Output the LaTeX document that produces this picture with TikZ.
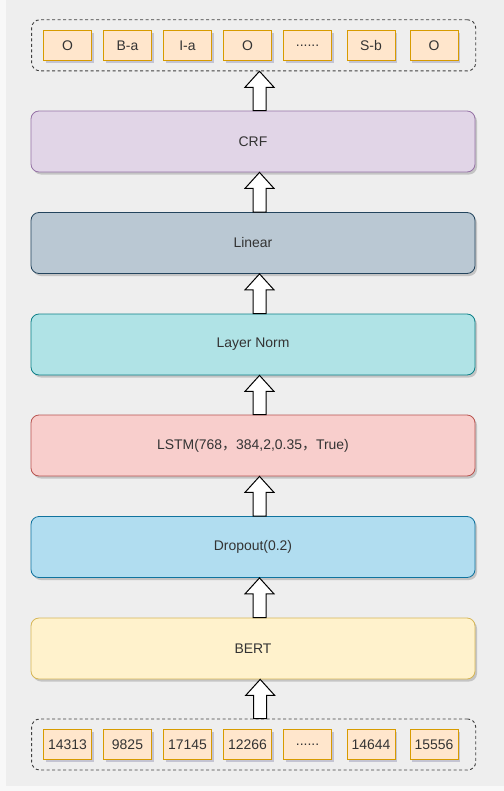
\documentclass[tikz,border=0pt]{standalone}
\usepackage{fontspec}
\setmainfont{Liberation Sans}
\newfontfamily\cjk{Noto Sans CJK SC}
\usetikzlibrary{shadows,calc}
\definecolor{bgc}{HTML}{EEEEEE}
\definecolor{txt}{HTML}{333333}
\definecolor{crff}{HTML}{E1D5E7}\definecolor{crfd}{HTML}{9673A6}
\definecolor{linf}{HTML}{BAC8D3}\definecolor{lind}{HTML}{23445D}
\definecolor{lnf}{HTML}{B0E3E6}\definecolor{lnd}{HTML}{0E8088}
\definecolor{lsf}{HTML}{F8CECC}\definecolor{lsd}{HTML}{B85450}
\definecolor{drf}{HTML}{B1DDF0}\definecolor{drd}{HTML}{10739E}
\definecolor{bef}{HTML}{FFF2CC}\definecolor{bed}{HTML}{D6B656}
\definecolor{tkf}{HTML}{FFE6CC}\definecolor{tkd}{HTML}{D79B00}
\newcommand{\sixdots}{......}
\tikzset{
  layer/.style={draw, line width=0.8bp, rounded corners=8bp, minimum width=444bp, minimum height=61bp,
    inner sep=0pt, font=\fontsize{14}{16}\selectfont, text=txt,
    drop shadow={shadow xshift=2bp, shadow yshift=-2.5bp, opacity=0.3, fill=black!60}},
  token/.style={draw=tkd, fill=tkf, line width=0.9bp, minimum width=48bp, minimum height=30bp, inner sep=0pt,
    font=\fontsize{14}{16}\selectfont, text=txt,
    drop shadow={shadow xshift=2bp, shadow yshift=-2.5bp, opacity=0.3, fill=blue!30!black!60}},
  group/.style={draw=black!75, dashed, dash pattern=on 3bp off 2.5bp, line width=0.9bp, rounded corners=8bp,
    minimum width=444bp, minimum height=51bp, inner sep=0pt},
  blockarrow/.style={draw=black, fill=white, line width=1bp, line join=miter}
}
\newcommand{\uparr}[2]{%
  \draw[blockarrow] let \p1=(#1.north), \p2=(#2.south) in
    ($(\x1+6.5bp-6.5bp,\y1)$) -- ($(\x1+6.5bp+6.5bp,\y1)$) -- ($(\x1+6.5bp+6.5bp,\y2-16bp)$)
    -- ($(\x1+6.5bp+14.5bp,\y2-16bp)$) -- ($(\x1+6.5bp,\y2)$) -- ($(\x1+6.5bp-14.5bp,\y2-16bp)$)
    -- ($(\x1+6.5bp-6.5bp,\y2-16bp)$) -- cycle;}
\begin{document}
\begin{tikzpicture}[x=1bp,y=-1bp]
\useasboundingbox (0,0) rectangle (504,791);
\fill[bgc] (0,0) rectangle (504,791);
\fill[white!60!bgc] (0,0) rectangle (6,791);
\fill[white!60!bgc] (0,786) rectangle (504,791);
% top output group
\node[group] (outg) at (253.7,45.3) {};
\foreach \n/\x/\t in {o1/67.5/O, o2/127.5/B-a, o3/187.5/I-a, o4/247.5/O, o5/307.5/\sixdots, o6/371/S-b, o7/434/O}
  \node[token] (\n) at (\x,45.7) {\t};
% layers
\node[layer, fill=crff, draw=crfd] (crf) at (253,141.5) {CRF};
\node[layer, fill=linf, draw=lind] (lin) at (253,243) {Linear};
\node[layer, fill=lnf, draw=lnd] (ln) at (253,344.5) {Layer Norm};
\node[layer, fill=lsf, draw=lsd] (lstm) at (253,445.5) {LSTM(768{\cjk ，}384,2,0.35{\cjk ，}True)};
\node[layer, fill=drf, draw=drd] (drop) at (253,547) {Dropout(0.2)};
\node[layer, fill=bef, draw=bed] (bert) at (253,648.5) {BERT};
% bottom input group
\node[group] (ing) at (253.7,744.5) {};
\foreach \n/\x/\t in {i1/67.5/14313, i2/127.5/9825, i3/187.5/17145, i4/247.5/12266, i5/307.5/\sixdots, i6/371/14644, i7/434/15556}
  \node[token] (\n) at (\x,744.3) {\t};
% arrows
\uparr{ing}{bert}
\uparr{bert}{drop}
\uparr{drop}{lstm}
\uparr{lstm}{ln}
\uparr{ln}{lin}
\uparr{lin}{crf}
\uparr{crf}{outg}
\end{tikzpicture}
\end{document}
